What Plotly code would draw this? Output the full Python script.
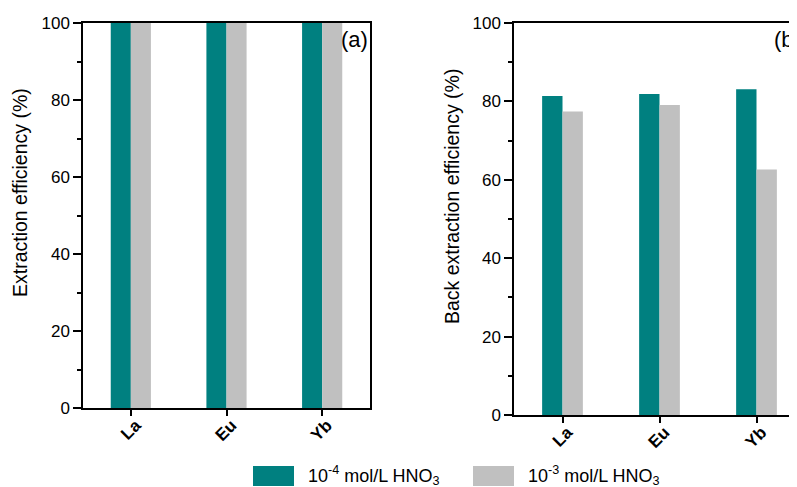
import plotly.graph_objects as go

categories = ["La", "Eu", "Yb"]
extraction_1e4 = [100, 100, 100]
extraction_1e3 = [100, 100, 100]
back_1e4 = [81.4, 81.9, 83.1]
back_1e3 = [77.4, 79.1, 62.6]
series_names = ["10<sup>-4</sup> mol/L HNO<sub>3</sub>", "10<sup>-3</sup> mol/L HNO<sub>3</sub>"]
y_titles = ["Extraction efficiency (%)", "Back extraction efficiency (%)"]
panel_labels = ["(a)", "(b)"]
y_ticks = [0, 20, 40, 60, 80, 100]

TEAL = "#008080"
GRAY = "#C0C0C0"
FONT = "Liberation Sans, Arial, sans-serif"
W, H = 797, 487
OFF = 8  # page body margin offset of the figure in the window


def px_x(p):
    return (p - OFF) / W


def px_y(p):
    return 1 - (p - OFF) / H


fig = go.Figure()
for xa, ya, vals, col, name in [
    ("x", "y", extraction_1e4, TEAL, series_names[0]),
    ("x", "y", extraction_1e3, GRAY, series_names[1]),
    ("x2", "y2", back_1e4, TEAL, series_names[0]),
    ("x2", "y2", back_1e3, GRAY, series_names[1]),
]:
    fig.add_trace(go.Bar(x=categories, y=vals, xaxis=xa, yaxis=ya,
                         marker=dict(color=col, line=dict(width=0)),
                         name=name, showlegend=False))

yaxis_common = dict(range=[0, 100], tickvals=y_ticks, ticks="outside", ticklen=8, tickwidth=1.5,
                    tickcolor="black", showline=True, linecolor="black", linewidth=1.5,
                    showgrid=False, zeroline=False, automargin=False,
                    minor=dict(dtick=10, ticks="outside", ticklen=4, tickwidth=1.5, tickcolor="black"),
                    tickfont=dict(family=FONT, size=17, color="black"))
xaxis_common = dict(type="category", ticks="outside", ticklen=6, tickwidth=1.5, tickcolor="black",
                    showline=True, linecolor="black", linewidth=1.5, showgrid=False, zeroline=False,
                    automargin=False, ticklabelshift=5, ticklabelstandoff=-7,
                    tickangle=-45, tickfont=dict(family=FONT, size=17, color="black", weight="bold"))

fig.update_layout(
    template="none",
    width=W, height=H, margin=dict(l=0, r=0, t=0, b=0, autoexpand=False),
    paper_bgcolor="white", plot_bgcolor="white",
    barmode="group", bargap=0.58, bargroupgap=0,
    showlegend=False,
    xaxis=dict(xaxis_common, domain=[px_x(83), px_x(370)], range=[-0.5, 2.5], anchor="y", mirror=True),
    yaxis=dict(yaxis_common, domain=[px_y(408), px_y(23)], anchor="x", mirror=True),
    xaxis2=dict(xaxis_common, domain=[px_x(514), 1.0], range=[-0.5, 2.5], anchor="y2", mirror=True),
    yaxis2=dict(yaxis_common, domain=[px_y(415), px_y(23)], anchor="x2", mirror=True),
)

# y-axis titles
for txt, cx, cy in [(y_titles[0], 20, 193), (y_titles[1], 452, 197)]:
    fig.add_annotation(text=txt, x=px_x(cx), y=px_y(cy), xref="paper", yref="paper",
                       xanchor="center", yanchor="middle", textangle=-90, showarrow=False,
                       font=dict(family=FONT, size=19.5, color="black"))

# panel labels
fig.add_annotation(text=panel_labels[0], x=px_x(370), y=px_y(39), xref="paper", yref="paper",
                   xanchor="right", yanchor="middle", showarrow=False,
                   font=dict(family=FONT, size=22, color="black"))
fig.add_annotation(text=panel_labels[1], x=px_x(772), y=px_y(40), xref="paper", yref="paper",
                   xanchor="left", yanchor="middle", showarrow=False,
                   font=dict(family=FONT, size=22, color="black"))

# legend swatches and labels
for x0, col, name in [(253, TEAL, series_names[0]), (473, GRAY, series_names[1])]:
    fig.add_shape(type="rect", xref="paper", yref="paper",
                  x0=px_x(x0), x1=px_x(x0 + 41), y0=px_y(486), y1=px_y(466),
                  fillcolor=col, line=dict(width=0))
    fig.add_annotation(text=name, x=px_x(x0 + 53), y=px_y(475), xref="paper", yref="paper",
                       xanchor="left", yanchor="middle", showarrow=False,
                       font=dict(family=FONT, size=18, color="black"))

fig.write_html("out.html")
